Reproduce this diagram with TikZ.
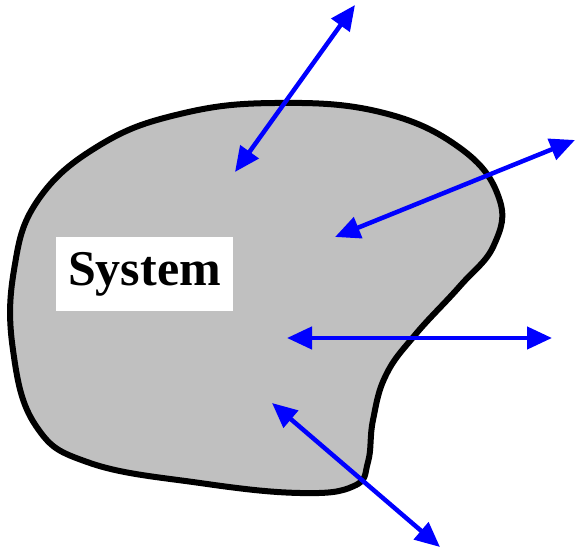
\documentclass[tikz,border=0pt]{standalone}
\usepackage{fontspec}
\setmainfont{Liberation Serif}
\usetikzlibrary{arrows.meta}
\definecolor{silver}{RGB}{192,192,192}
\tikzset{
  flow/.style={draw=blue, line width=4.5pt, {Triangle[length=25pt,width=22pt]}-{Triangle[length=25pt,width=22pt]}},
  label box/.style={fill=white, inner sep=0pt, minimum width=177pt, minimum height=74pt,
    font=\fontsize{50}{50}\selectfont\bfseries}
}
\begin{document}
\begin{tikzpicture}[x=1pt,y=-1pt]
  \useasboundingbox (0,0) rectangle (576,553);
  % sistem
  \draw[line width=6pt, fill=silver] plot[smooth cycle, tension=0.7] coordinates {
    (275,103) (380,112) (460,148) (499,198) (494,245) (460,286) (415,335)
    (386,375) (373,420) (368,462) (354,486) (300,493) (200,483) (90,463)
    (36,426) (13,350) (14,270) (38,200) (100,145) (180,114)};
  \node[label box] (sys) at (144.5,274) {System};
  % aliran batas
  \coordinate (A1) at (235,172);
  \coordinate (B1) at (355,5);
  \coordinate (A2) at (335,237);
  \coordinate (B2) at (575,140);
  \coordinate (A3) at (287,338);
  \coordinate (B3) at (552,338);
  \coordinate (A4) at (272,403);
  \coordinate (B4) at (440,547);
  \draw[flow] (A1) -- (B1);
  \draw[flow] (A2) -- (B2);
  \draw[flow] (A3) -- (B3);
  \draw[flow] (A4) -- (B4);
\end{tikzpicture}
\end{document}
